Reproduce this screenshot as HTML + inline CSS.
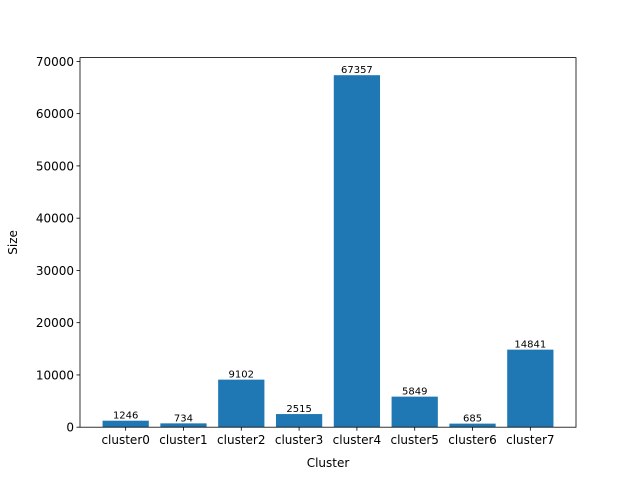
<!DOCTYPE html>
<html><head><meta charset="utf-8"><style>
body{margin:0;background:#fff;}
svg{display:block;font-family:"DejaVu Sans","Liberation Sans",sans-serif;}
</style></head><body>
<svg id="chart" width="640" height="480">
<rect width="640" height="480" fill="#fff"/>
<g id="plot"></g>
</svg>
<script>
const categories=["cluster0","cluster1","cluster2","cluster3","cluster4","cluster5","cluster6","cluster7"];
const sizes=[1246,734,9102,2515,67357,5849,685,14841];
const yTicks=[0,10000,20000,30000,40000,50000,60000,70000];

const L=80,R=576,T=57.6,B=427.2;
const ns="http://www.w3.org/2000/svg";
const g=document.getElementById('plot');
const n=categories.length;
const xmin=-0.4-0.05*(n-1+0.8), xmax=n-1+0.4+0.05*(n-1+0.8);
const ymax=Math.max(...sizes)*1.05;
const xs=v=>L+(v-xmin)/(xmax-xmin)*(R-L);
const ys=v=>B-v/ymax*(B-T);
function el(tag,attrs,text){const e=document.createElementNS(ns,tag);for(const k in attrs)e.setAttribute(k,attrs[k]);if(text!==undefined)e.textContent=text;g.appendChild(e);return e;}

sizes.forEach((v,i)=>{
  const x0=xs(i-0.4),x1=xs(i+0.4);
  const r=el('rect',{x:x0,y:ys(v),width:x1-x0,height:B-ys(v),fill:'#1f77b4'});
  
  
  const t=el('text',{x:xs(i),y:ys(v)-2,'font-size':'10','text-anchor':'middle',fill:'#000'},String(v));
  
  
  el('line',{x1:xs(i),x2:xs(i),y1:B,y2:B+3.5,stroke:'#000','stroke-width':0.8});
  const xl=el('text',{x:xs(i),y:B+17,'font-size':'12','text-anchor':'middle',fill:'#000'},categories[i]);
  
  
});
yTicks.forEach(v=>{
  el('line',{x1:L-3.5,x2:L,y1:ys(v),y2:ys(v),stroke:'#000','stroke-width':0.8});
  const t=el('text',{x:L-6,y:ys(v)+4.5,'font-size':'12','text-anchor':'end',fill:'#000'},String(v));
  
  
});
const fr=el('rect',{x:L,y:T,width:R-L,height:B-T,fill:'none',stroke:'#000','stroke-width':0.8});


const xt=el('text',{x:(L+R)/2,y:467,'font-size':'12','text-anchor':'middle',fill:'#000'},'Cluster');


const yt=el('text',{x:17,y:(T+B)/2,'font-size':'12','text-anchor':'middle',fill:'#000',transform:'rotate(-90 17 '+(T+B)/2+')'},'Size');


</script>
</body></html>
